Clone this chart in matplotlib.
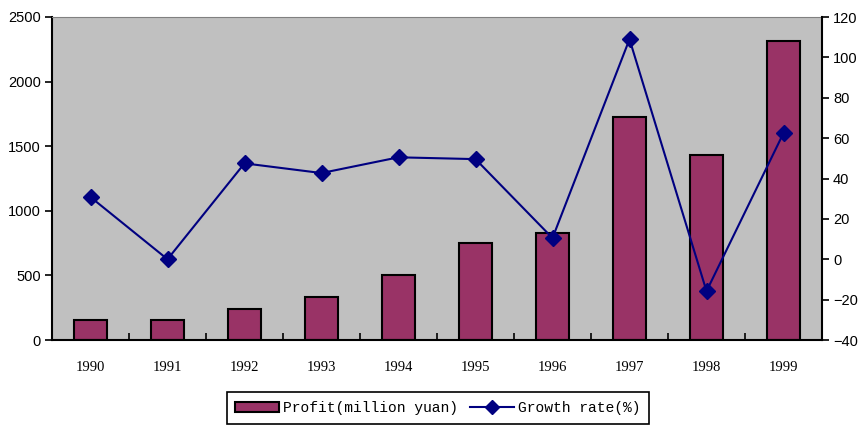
import matplotlib
matplotlib.use('Agg')
import matplotlib.pyplot as plt
from matplotlib.lines import Line2D
from matplotlib.patches import Patch
import numpy as np

years = ['1990', '1991', '1992', '1993', '1994', '1995', '1996', '1997', '1998', '1999']
profit = [155, 155, 240, 333, 500, 750, 825, 1725, 1430, 2312]
growth = [30.8, 0.0, 47.5, 42.7, 50.5, 49.6, 10.5, 109.0, -15.8, 62.5]

bar_color = '#993366'
line_color = '#000080'

fig = plt.figure(figsize=(8.58, 4.25), dpi=100)
ax = fig.add_axes([52 / 858, 85 / 425, 770 / 858, 323 / 425])
x = np.arange(len(years))

ax.set_facecolor('#C0C0C0')
ax.bar(x, profit, width=0.44, color=bar_color, edgecolor='black', linewidth=1.5, zorder=2)
ax.set_xlim(-0.5, len(years) - 0.5)
ax.set_ylim(0, 2500)
ax.set_yticks(np.arange(0, 2501, 500))
ax.tick_params(axis='y', direction='out', length=5, width=1.2, labelsize=10.5, pad=3)
for lbl in ax.get_yticklabels():
    lbl.set_family('Liberation Sans')

# category labels at centers, tick marks at boundaries
ax.set_xticks(x)
ax.set_xticklabels(years, family='Liberation Serif', fontsize=10.5)
ax.tick_params(axis='x', which='major', length=0, pad=15)
ax.set_xticks(np.arange(0.5, len(years) - 0.5, 1), minor=True)
ax.tick_params(axis='x', which='minor', direction='in', length=5, width=1.2)

ax.spines['top'].set_color('#808080')
ax.spines['left'].set_linewidth(1.5)
ax.spines['bottom'].set_linewidth(1.5)
ax.spines['right'].set_visible(False)

ax2 = ax.twinx()
ax2.plot(x, growth, color=line_color, linewidth=1.5, marker='D', markersize=8, zorder=3)
ax2.set_ylim(-40, 120)
ax2.set_yticks(np.arange(-40, 121, 20))
ax2.tick_params(axis='y', direction='out', length=5, width=1.2, labelsize=10.5, pad=3)
for lbl in ax2.get_yticklabels():
    lbl.set_family('Liberation Sans')
ax2.spines['right'].set_linewidth(1.5)
ax2.spines['top'].set_visible(False)
ax2.spines['left'].set_visible(False)
ax2.spines['bottom'].set_visible(False)

handles = [Patch(facecolor=bar_color, edgecolor='black', linewidth=1.5),
           Line2D([0], [0], color=line_color, linewidth=1.5, marker='D', markersize=7)]
leg = fig.legend(handles, ['Profit(million yuan)', 'Growth rate(%)'],
                 loc='upper center', bbox_to_anchor=(438 / 858, 33 / 425),
                 ncol=2, frameon=True, fancybox=False, framealpha=1,
                 edgecolor='black', prop={'family': 'Liberation Mono', 'size': 10.5},
                 handlelength=3.0, columnspacing=0.8, handletextpad=0.3,
                 borderpad=0.6, borderaxespad=0)
leg.get_frame().set_linewidth(1.2)

plt.savefig('out.png', dpi=100)
plt.close()
